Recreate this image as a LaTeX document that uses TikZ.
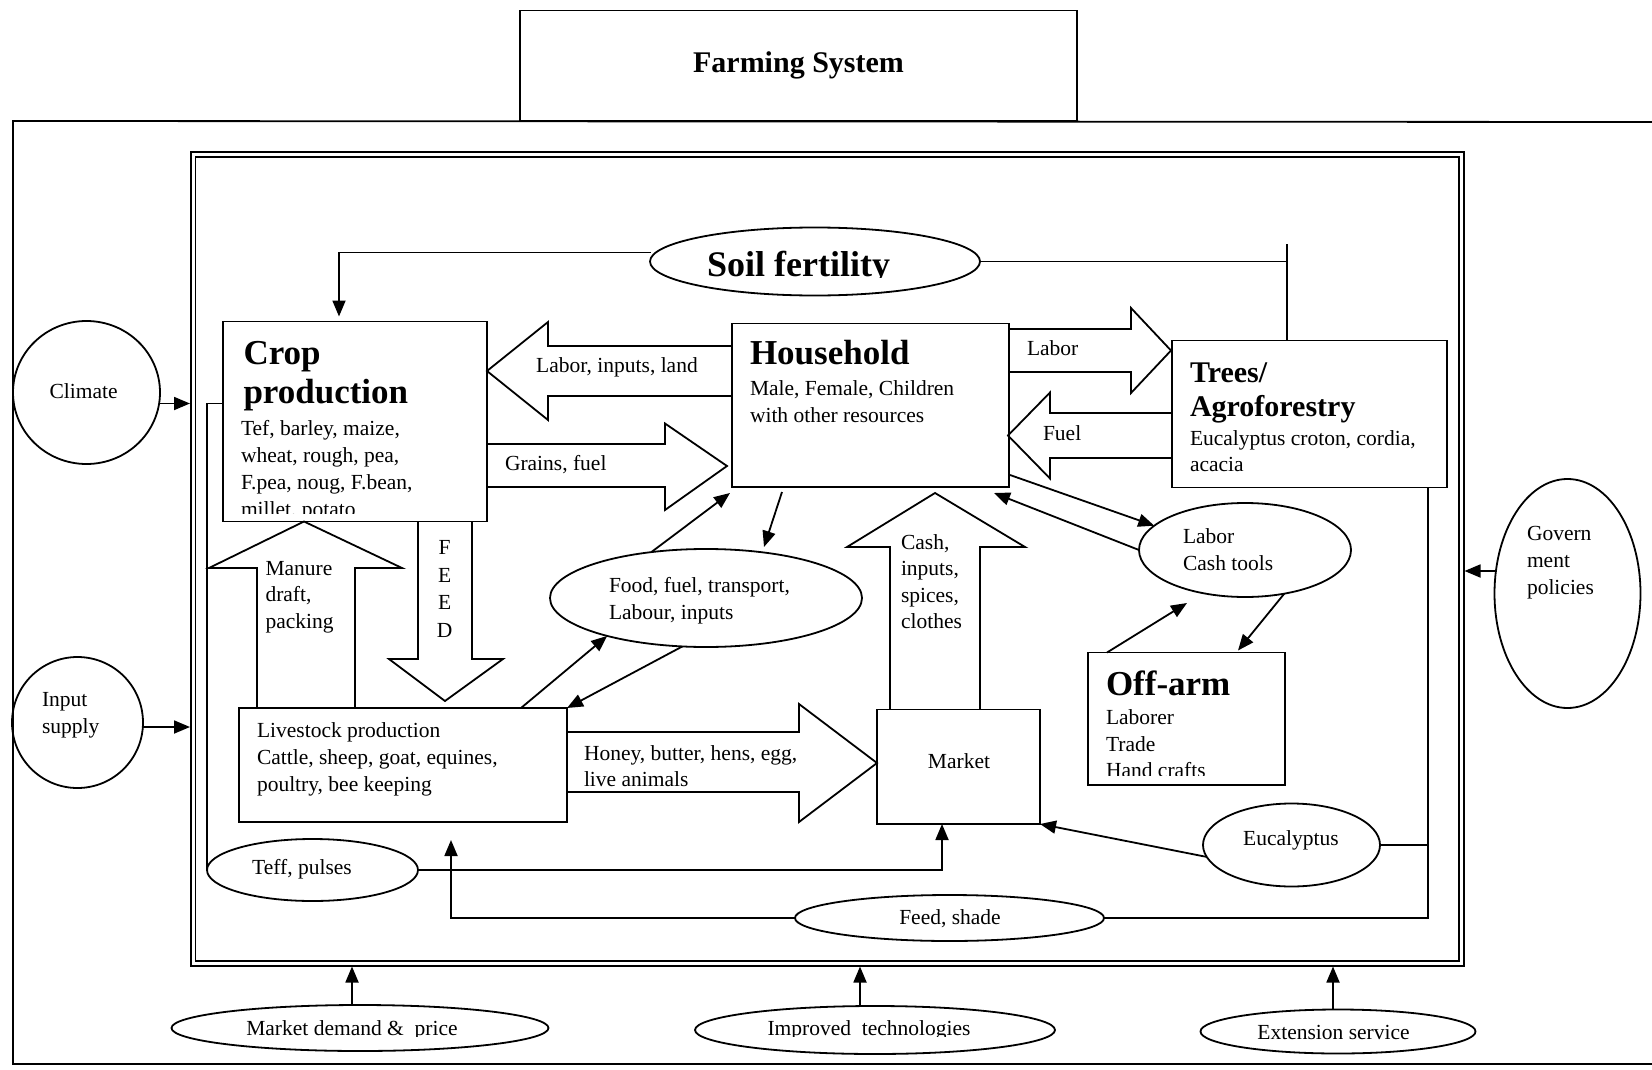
\documentclass[tikz,border=0pt]{standalone}
\usepackage{fontspec}
\setmainfont{Liberation Serif}
\usetikzlibrary{shapes.geometric,arrows.meta,calc}
\begin{document}
\begin{tikzpicture}[x=1pt,y=-1pt,
  box/.style={draw,rectangle,line width=1.8pt,inner sep=0pt,outer sep=0pt},
  ell/.style={draw,ellipse,line width=1.8pt,inner sep=0pt,outer sep=0pt},
  txt/.style={inner sep=0pt,outer sep=0pt,align=left,font=\fontsize{21.5}{27}\selectfont},
  hd/.style={inner sep=0pt,outer sep=0pt,align=left,font=\fontsize{35}{39}\selectfont\bfseries},
  con/.style={line width=1.8pt},
  arr/.style={line width=1.8pt,-{Triangle[length=16pt,width=13pt]}},
  blk/.style={line width=1.8pt,line join=miter},
]
\useasboundingbox (0,0) rectangle (1652,1070);

% outer frame and title box
\draw[con] (1652,122) -- (13,121) -- (13,1064) -- (1652,1064);
\node[box,minimum width=557pt,minimum height=110.5pt,font=\fontsize{30}{34}\selectfont\bfseries] (farm) at (798.5,65.75) {Farming System};

% inner double frame
\node[draw,double,double distance=3pt,line width=1.6pt,inner sep=0pt,outer sep=0pt,minimum width=1268.5pt,minimum height=809pt] (frame) at (827.25,559) {};

% boxes
\node[box,minimum width=264pt,minimum height=200pt] (crop) at (355,421.5) {};
\node[box,minimum width=277pt,minimum height=163.5pt] (house) at (870.5,405.25) {};
\node[box,minimum width=275pt,minimum height=147pt] (trees) at (1309.5,414) {};
\node[box,minimum width=328pt,minimum height=114pt] (live) at (403,765) {};
\node[box,minimum width=163pt,minimum height=114.5pt] (market) at (958.5,766.75) {};
\node[box,minimum width=197pt,minimum height=132.5pt] (offarm) at (1186.5,718.75) {};

% ellipses
\node[ell,minimum width=330pt,minimum height=68pt] (soil) at (815,261.5) {};
\node[ell,minimum width=147pt,minimum height=143pt] (climate) at (86.5,392.5) {};
\node[ell,minimum width=131pt,minimum height=131pt] (input) at (77.5,722.5) {};
\node[ell,minimum width=146pt,minimum height=229pt] (gov) at (1567.5,593.5) {};
\node[ell,minimum width=312pt,minimum height=98pt] (food) at (706,598) {};
\node[ell,minimum width=212pt,minimum height=94pt] (lct) at (1245,550) {};
\node[ell,minimum width=211pt,minimum height=62pt] (teff) at (312.5,870) {};
\node[ell,minimum width=309pt,minimum height=46pt] (feed) at (949.5,918) {};
\node[ell,minimum width=177pt,minimum height=83pt] (euc) at (1291.5,845) {};
\node[ell,minimum width=377pt,minimum height=46pt] (mdp) at (360,1028) {};
\node[ell,minimum width=360pt,minimum height=48pt] (imp) at (875,1030) {};
\node[ell,minimum width=275pt,minimum height=44pt] (ext) at (1338,1031.5) {};

% texts in boxes
\node[hd,anchor=north west] (croph) at (243.5,336.7) {\strut Crop\\production};
\begin{scope}
\clip (crop.north west) rectangle ($(crop.south east)+(0,-8)$);
\node[txt,anchor=north west] (cropt) at (241,416.1) {\strut Tef, barley, maize,\\wheat, rough, pea,\\F.pea, noug, F.bean,\\millet, potato};
\end{scope}
\node[hd,anchor=base west] (househ) at (750,364) {Household};
\node[txt,anchor=north west] (houset) at (750,376.1) {\strut Male, Female, Children\\with other resources};
\node[hd,font=\fontsize{30}{34}\selectfont\bfseries,anchor=north west] (treesh) at (1190,358.2) {\strut Trees/\\Agroforestry};
\node[txt,anchor=north west,font=\fontsize{21.5}{26.6}\selectfont] (treest) at (1190,426.4) {\strut Eucalyptus croton, cordia,\\acacia};
\node[hd,anchor=base west] (offh) at (1106,695) {Off-arm};
\begin{scope}
\clip (offarm.north west) rectangle ($(offarm.south east)+(0,-9.5)$);
\node[txt,anchor=north west,font=\fontsize{21.5}{26.5}\selectfont] (offt) at (1106,705.95) {\strut Laborer\\Trade\\Hand crafts};
\end{scope}
\node[txt,anchor=north west] (livet) at (257,718.1) {\strut Livestock production\\Cattle, sheep, goat, equines,\\poultry, bee keeping};
\node[txt] (markett) at (959,761) {Market};

% texts in ellipses
\begin{scope}
\clip (600,200) rectangle (1000,277.5);
\node[hd,font=\fontsize{36}{40}\selectfont\bfseries,anchor=base] (soilt) at (798.5,276.5) {Soil fertility};
\end{scope}
\node[txt,anchor=north west] (foodt) at (609,573.1) {\strut Food, fuel, transport,\\Labour, inputs};
\node[txt,anchor=north west] (lctt) at (1183,524.1) {\strut Labor\\Cash tools};
\node[txt,anchor=north west] (govt) at (1527,521.1) {\strut Govern\\ment\\policies};
\node[txt,anchor=north west] (inputt) at (42,687.1) {\strut Input\\supply};
\node[txt] (climatet) at (83.6,391) {Climate};
\node[txt] (tefft) at (302,869) {Teff, pulses};
\node[txt] (feedt) at (950,919) {Feed, shade};
\node[txt] (euct) at (1291,840) {Eucalyptus};
\node[txt] (extt) at (1333.5,1032) {Extension service};
\begin{scope}
\clip (150,990) rectangle (1100,1036.5);
\node[txt,anchor=base] (mdpt) at (352,1035) {Market demand \&\ \ price};
\node[txt,anchor=base] (impt) at (869,1035) {Improved\ \ technologies};
\end{scope}

% block arrows
\draw[blk] (house.west |- 0,346) -- (548,346) -- (548,322) -- (crop.east |- 0,371) -- (548,420) -- (548,396) -- (house.west |- 0,396);
\draw[blk] (crop.east |- 0,444) -- (665,444) -- (665,423.5) -- (727,466) -- (665,510) -- (665,487) -- (crop.east |- 0,487);
\draw[blk] (house.east |- 0,329) -- (1131,329) -- (1131,308) -- (1171,350.5) -- (1131,393) -- (1131,372) -- (house.east |- 0,372);
\draw[blk] (trees.west |- 0,413) -- (1050,413) -- (1050,392.5) -- (1008,435.5) -- (1050,478.5) -- (1050,458) -- (trees.west |- 0,458);
\draw[blk] (257,0 |- live.north) -- (257,568) -- (209,568) -- (304,0 |- crop.south) -- (402,568) -- (355,568) -- (355,0 |- live.north);
\draw[blk] (418,0 |- crop.south) -- (418,659) -- (389,659) -- (445,701) -- (503,659) -- (472,659) -- (472,0 |- crop.south);
\draw[blk] (live.east |- 0,732) -- (799,732) -- (799,704) -- (market.west |- 0,763) -- (799,822) -- (799,792) -- (live.east |- 0,792);
\draw[blk] (890,0 |- market.north) -- (890,547) -- (847,547) -- (935,493) -- (1025,547) -- (980,547) -- (980,0 |- market.north);

% block arrow labels
\node[txt] (lilt) at (617,367) {Labor, inputs, land};
\node[txt,anchor=base west] (grt) at (505,470.5) {Grains, fuel};
\node[txt,anchor=base west] (labt) at (1027,355.5) {Labor};
\node[txt,anchor=base west] (fuelt) at (1043,440.5) {Fuel};
\node[txt,anchor=north west,font=\fontsize{21.5}{26.5}\selectfont] (mant) at (265.5,556.45) {\strut Manure\\draft,\\packing};
\node[txt,anchor=north,align=center,font=\fontsize{21.5}{27.5}\selectfont] (feedv) at (444.6,535.25) {\strut F\\E\\E\\D};
\node[txt,anchor=north west,font=\fontsize{21.5}{26}\selectfont] (hont) at (584,741.8) {\strut Honey, butter, hens, egg,\\live animals};
\node[txt,anchor=north west,font=\fontsize{21.5}{26.5}\selectfont] (casht) at (901,530.45) {\strut Cash,\\inputs,\\spices,\\clothes};

% connectors
\draw[arr] ($(soil.west)+(1,-9)$) -| ($(crop.north west)+(116,-5)$);
\coordinate (tj) at ($(trees.north west)+(115,0)$);
\draw[con] (soil.east) -| (tj);
\draw[con] (tj) -- ++(0,-96.5);
\draw[con] (crop.west |- 0,403.5) -| (teff.west);
\draw[arr] (teff.east) -| ($(market.south west)+(65,0)$);
\coordinate (lvt) at ($(live.south west)+(212,18)$);
\draw[arr] (feed.west) -| (lvt);
\coordinate (tv) at ($(trees.south west)+(256,0)$);
\draw[con] (feed.east) -| (tv);
\draw[con] (euc.east) -- (euc.east -| tv);
\draw[arr] (euc.188) -- (market.south east);
\draw[arr] ($(live.north west)+(282,0)$) -- (food.201);
\draw[arr] (food.244) -- (live.north east);
\draw[arr] (food.140) -- ($(house.south west)+(-2,6)$);
\draw[arr] ($(house.south west)+(50,5)$) -- ($(food.north)+(58,-2)$);
\draw[arr] ($(house.south east)+(1,-12)$) -- (lct.165);
\draw[arr] (lct.west) -- ($(house.south east)+(-15,6)$);
\coordinate (oat) at ($(lct.south)+(-58,6)$);
\draw[arr] ($(offarm.north west)+(19,0)$) -- (oat);
\draw[arr] (lct.312) -- ($(offarm.north west)+(150,-2)$);

% external influences
\draw[arr] ($(climate.east)+(-0.5,11)$) -- ($(frame.west |- 0,403.5)+(-3,0)$);
\draw[arr] ($(input.east)+(0,4.5)$) -- ($(frame.west |- 0,727)+(-3,0)$);
\draw[arr] ($(gov.west)+(1.5,-22.5)$) -- ($(frame.east |- 0,571)+(3,0)$);
\draw[arr] ($(mdp.north)+(-8,0)$) -- ($(frame.south -| 352,0)+(0,3)$);
\draw[arr] ($(imp.north)+(-15,0)$) -- ($(frame.south -| 860,0)+(0,3)$);
\draw[arr] ($(ext.north)+(-5,0)$) -- ($(frame.south -| 1333,0)+(0,3)$);
\end{tikzpicture}
\end{document}
